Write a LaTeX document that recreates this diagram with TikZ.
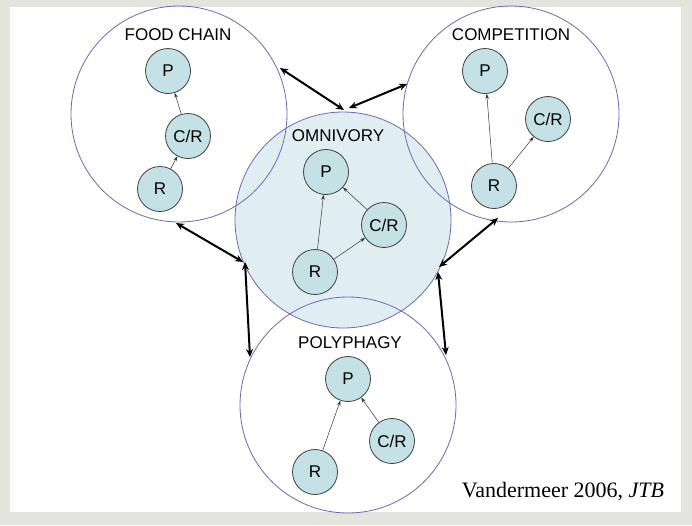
\documentclass[tikz,border=0pt]{standalone}
\usepackage{fontspec}
\setmainfont{Liberation Sans}
\newfontfamily\timesf{Liberation Serif}
\usetikzlibrary{arrows.meta}
\definecolor{bg}{HTML}{E4E4DE}
\definecolor{ring}{HTML}{6A6AB8}
\definecolor{omni}{HTML}{E0EEF2}
\definecolor{sp}{HTML}{C4E2E6}
\begin{document}
\begin{tikzpicture}[x=1pt,y=-1pt,
  big/.style={draw=ring,line width=0.8pt},
  sp/.style={circle,draw=black!75,line width=0.8pt,fill=sp,minimum size=45pt,inner sep=0pt,font=\fontsize{17}{19}\selectfont},
  lab/.style={font=\fontsize{17}{19}\selectfont},
  thin/.style={-{Stealth[length=5pt,width=3.5pt]},line width=0.5pt,black!80},
  thick/.style={{Stealth[length=8pt,width=7pt]}-{Stealth[length=8pt,width=7pt]},line width=2pt}]
\fill[bg] (0,0) rectangle (692,525);
\fill[white] (10,7) rectangle (681,512);
\useasboundingbox (0,0) rectangle (692,525);
\fill[omni] (343,220) circle (108);
\draw[big] (179,114) circle (108);
\draw[big] (511,114) circle (108);
\draw[big] (343,220) circle (108);
\draw[big] (348,405) circle (108);
\node[lab] at (178,35) {FOOD CHAIN};
\node[lab] at (511,35) {COMPETITION};
\node[lab] at (338,136) {OMNIVORY};
\node[lab] at (350,343) {POLYPHAGY};
\node[sp] (fP) at (168,71) {P};
\node[sp] (fC) at (188,136) {C/R};
\node[sp] (fR) at (160,189) {R};
\node[sp] (cP) at (485,71) {P};
\node[sp] (cC) at (548,119) {C/R};
\node[sp] (cR) at (494,186) {R};
\node[sp] (oP) at (326,172) {P};
\node[sp] (oC) at (384,225) {C/R};
\node[sp] (oR) at (315,272) {R};
\node[sp] (pP) at (348,379) {P};
\node[sp] (pC) at (392,441) {C/R};
\node[sp] (pR) at (315,472) {R};
\draw[thin] (fR) -- (fC);
\draw[thin] (fC) -- (fP);
\draw[thin] (cR) -- (cP);
\draw[thin] (cR) -- (cC);
\draw[thin] (oR) -- (oP);
\draw[thin] (oR) -- (oC);
\draw[thin] (oC) -- (oP);
\draw[thin] (pR) -- (pP);
\draw[thin] (pC) -- (pP);
\coordinate (a1) at (280,68); \coordinate (a2) at (344,110);
\coordinate (b1) at (349,108); \coordinate (b2) at (407,84);
\coordinate (c1) at (176,223); \coordinate (c2) at (243,262);
\coordinate (d1) at (245,262); \coordinate (d2) at (250,357);
\coordinate (e1) at (498,218); \coordinate (e2) at (439,267);
\coordinate (g1) at (438,272); \coordinate (g2) at (446,355);
\draw[thick] (a1) -- (a2);
\draw[thick] (b1) -- (b2);
\draw[thick] (c1) -- (c2);
\draw[thick] (d1) -- (d2);
\draw[thick] (e1) -- (e2);
\draw[thick] (g1) -- (g2);
\node[font=\timesf\fontsize{22}{24}\selectfont] at (563,492) {Vandermeer 2006, \textit{JTB}};
\end{tikzpicture}
\end{document}
